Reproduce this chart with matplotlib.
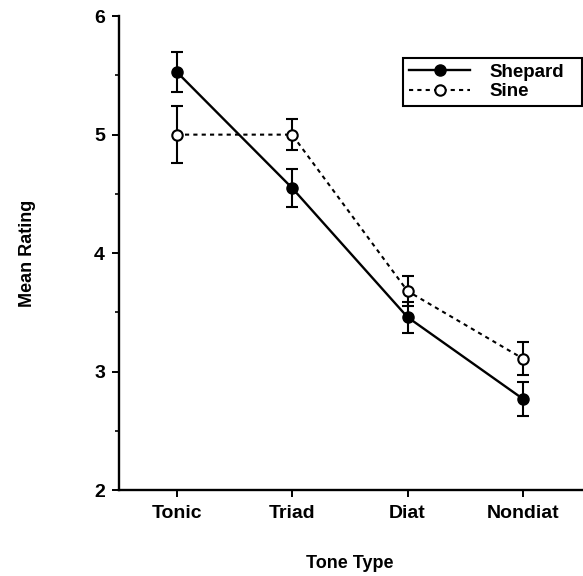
import matplotlib
matplotlib.use("Agg")
import matplotlib.pyplot as plt
from matplotlib.ticker import MultipleLocator

plt.rcParams["font.family"] = ["Liberation Sans", "DejaVu Sans"]
plt.rcParams["font.weight"] = "bold"

tone_types = ["Tonic", "Triad", "Diat", "Nondiat"]
shepard = [5.53, 4.55, 3.46, 2.77]
shepard_err = [0.17, 0.16, 0.13, 0.14]
sine = [5.00, 5.00, 3.68, 3.11]
sine_err = [0.24, 0.13, 0.13, 0.14]

x = list(range(1, len(tone_types) + 1))

fig = plt.figure(figsize=(5.83, 5.76), dpi=100)
ax = fig.add_axes([0.204, 0.149, 0.796, 0.823])

# error bars
ax.errorbar(x, shepard, yerr=shepard_err, fmt="none", ecolor="black",
            capsize=4, elinewidth=1.5, capthick=1.5)
ax.errorbar(x, sine, yerr=sine_err, fmt="none", ecolor="black",
            capsize=4, elinewidth=1.5, capthick=1.5)

# lines and markers
ax.plot(x, shepard, color="black", lw=1.7, marker="o", ms=8,
        mfc="black", mec="black", label="Shepard", zorder=3)
ax.plot(x, sine, color="black", lw=1.5, ls=(0, (2, 2)), marker="o", ms=7.5,
        mfc="white", mec="black", mew=1.5, label="Sine", zorder=3)

ax.set_xlim(0.5, 4.52)
ax.set_ylim(2, 6)
ax.set_xticks(x)
ax.set_xticklabels(tone_types)
ax.yaxis.set_major_locator(MultipleLocator(1))
ax.yaxis.set_minor_locator(MultipleLocator(0.5))

for side in ["top", "right"]:
    ax.spines[side].set_visible(False)
for side in ["left", "bottom"]:
    ax.spines[side].set_linewidth(1.7)

ax.tick_params(axis="both", which="major", length=5, width=1.4,
               labelsize=14, direction="out")
ax.tick_params(axis="y", which="minor", length=3, width=1.2)
ax.tick_params(axis="x", pad=6)
ax.tick_params(axis="y", pad=5)

fig.text(350 / 583, 1 - 563 / 576, "Tone Type", fontsize=13,
         fontweight="bold", ha="center", va="center")
fig.text(27 / 583, 1 - 253 / 576, "Mean Rating", fontsize=13,
         fontweight="bold", ha="center", va="center", rotation=90)

leg = ax.legend(loc="upper left",
                bbox_to_anchor=(403 / 583, 1 - 109 / 576, 179 / 583, 51 / 576),
                bbox_transform=fig.transFigure, borderaxespad=0, mode="expand",
                fancybox=False, edgecolor="black", framealpha=1,
                fontsize=13.5, handlelength=3.3, borderpad=0.3,
                labelspacing=0.12, handletextpad=1.0)
leg.get_frame().set_linewidth(1.5)

fig.savefig("out.png", dpi=100)
